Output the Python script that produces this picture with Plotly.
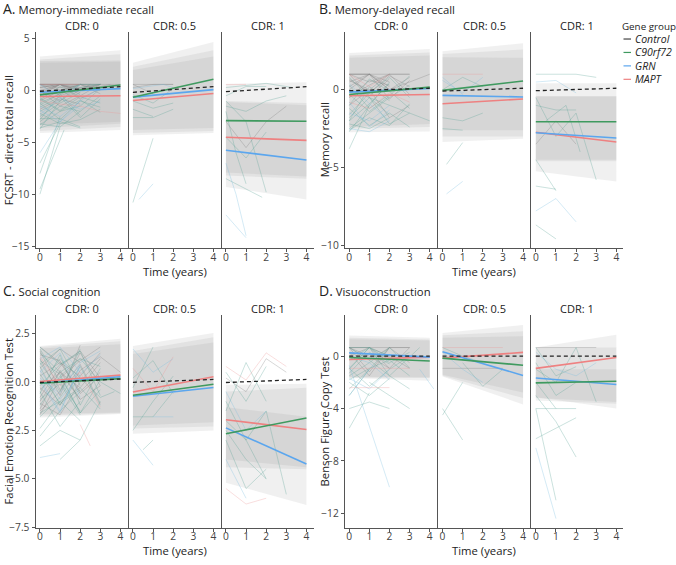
import plotly.graph_objects as go

W, H = 676, 565

# ---------------- data ----------------
FACETS = ["CDR: 0", "CDR: 0.5", "CDR: 1"]
GROUPS = ["Control", "C90rf72", "GRN", "MAPT"]
T_START, T_END = 0, 4
X_TICKS = [0, 1, 2, 3, 4]

# Group mean lines: per facet [value at t=0, value at t=4]
A_CONTROL = [[-0.06, 0.38], [-0.16, 0.38], [-0.10, 0.38]]
A_C9 = [[-0.41, 0.54], [-0.63, 1.10], [-2.90, -2.95]]
A_GRN = [[-0.16, 0.19], [-0.63, 0.10], [-5.75, -6.70]]
A_MAPT = [[-0.57, -0.50], [-0.95, -0.28], [-4.50, -4.80]]

B_CONTROL = [[-0.06, 0.10], [-0.08, 0.10], [-0.06, 0.10]]
B_C9 = [[-0.30, 0.17], [-0.04, 0.57], [-2.06, -2.06]]
B_GRN = [[-0.15, 0.08], [-0.36, -0.46], [-2.77, -3.10]]
B_MAPT = [[-0.38, -0.30], [-0.90, -0.59], [-2.73, -3.36]]

C_CONTROL = [[-0.03, 0.15], [-0.02, 0.13], [-0.03, 0.13]]
C_C9 = [[-0.07, 0.17], [-0.69, -0.12], [-2.67, -1.86]]
C_GRN = [[-0.07, 0.27], [-0.74, -0.29], [-2.37, -4.23]]
C_MAPT = [[0.02, 0.35], [-0.52, 0.27], [-1.95, -2.45]]

D_CONTROL = [[0.0, 0.0], [0.0, 0.0], [0.0, 0.0]]
D_C9 = [[-0.10, -0.37], [-0.15, -0.69], [-2.04, -1.91]]
D_GRN = [[0.25, -0.07], [0.34, -1.47], [-1.67, -2.16]]
D_MAPT = [[-0.25, -0.07], [-0.15, 0.29], [-0.93, -0.10]]

# Interval bands: per facet list of [low t0, high t0, low t4, high t4]
A_BANDS = [
    [[-4.1, 3.3, -3.8, 3.9], [-3.9, 3.0, -3.5, 3.5], [-3.6, 2.85, -3.2, 2.9], [-3.3, 2.7, -3.0, 2.8]],
    [[-4.3, 2.7, -4.1, 4.7], [-4.1, 2.3, -3.9, 3.9], [-3.8, 2.0, -3.6, 3.3]],
    [[-9.3, 0.65, -10.5, 0.8], [-8.2, -1.0, -8.5, -1.2], [-7.9, -1.1, -8.3, -1.4]],
]
B_BANDS = [
    [[-2.73, 2.37, -2.69, 2.63], [-2.5, 2.2, -2.4, 2.4], [-2.4, 2.06, -2.2, 2.2]],
    [[-3.36, 2.48, -3.15, 3.0], [-3.0, 2.3, -3.0, 2.6], [-2.6, 2.1, -2.6, 2.06]],
    [[-5.25, 0.42, -5.9, 0.42], [-4.6, -0.42, -4.6, -0.42], [-4.5, -0.42, -4.5, -0.42]],
]
C_BANDS = [
    [[-1.83, 1.86, -1.66, 2.23], [-1.75, 1.8, -1.62, 2.1], [-1.66, 1.73, -1.58, 1.95]],
    [[-2.67, 1.86, -2.5, 2.53], [-2.4, 1.6, -2.3, 2.3], [-2.25, 1.44, -2.08, 2.03]],
    [[-5.2, -0.15, -6.35, -0.1], [-4.4, -0.5, -4.5, -0.3], [-4.0, -1.3, -4.4, -1.8]],
]
D_BANDS = [
    [[-1.67, 1.57, -1.87, 1.4], [-1.62, 1.4, -1.67, 1.28], [-1.6, 1.3, -1.6, 1.2]],
    [[-1.55, 1.77, -3.68, 2.38], [-1.5, 1.6, -3.2, 1.9], [-1.42, 1.4, -2.77, 1.52]],
    [[-3.14, 0.66, -4.0, 1.64], [-3.39, 0.66, -3.63, 0.66], [-3.2, -1.0, -3.5, -1.0]],
]

# Individual trajectories: (group, times, values)
A_INDIV = [
    [("Control", [0, 1, 2, 3], [0.6, 0.6, 0.6, 0.6]), ("Control", [0, 1, 2, 3.5], [0.3, 0.6, 0.0, 0.6]),
     ("Control", [0, 1, 2], [-0.5, 0.6, 0.2]), ("Control", [0, 1, 2, 3], [-1.0, 0.0, 0.6, -0.3]),
     ("C9", [0, 1], [-10.0, -3.5]), ("C9", [0, 1.2], [-9.5, -3.8]), ("GRN", [0, 1, 2], [-6.0, -3.0, -1.0]),
     ("C9", [0, 1, 2, 3], [-2.0, -1.0, 0.3, 0.6]), ("C9", [0, 1], [-3.7, -1.0]),
     ("GRN", [0, 1, 2, 3], [-1.5, -2.5, -1.0, 0.3]), ("C9", [0, 1, 2], [-3.2, -3.5, -2.0]),
     ("MAPT", [0, 1, 2, 3, 4], [-1.0, -1.3, -1.5, -2.0, -2.2]), ("C9", [0, 1, 2], [-2.7, -2.7, -3.5]),
     ("Control", [0.5, 1.5, 2.5], [0.6, -0.5, 0.6]), ("C9", [0, 1, 2, 3], [-0.8, -2.0, -1.5, 0.2]),
     ("C9", [0, 1, 2], [-1.2, -0.3, -2.4]), ("Control", [0, 1, 2, 3], [0.0, -1.5, -0.5, 0.6]),
     ("Control", [0, 1, 2, 3], [0.6, 0.3, 0.6, 0.6]), ("Control", [0, 1, 2], [0.0, 0.6, 0.6]),
     ("Control", [0, 1, 2, 3, 4], [0.6, 0.6, 0.0, 0.6, 0.6]), ("C9", [0, 1, 2, 3], [-3.0, -1.5, -2.0, -0.5]),
     ("GRN", [0, 1, 2], [-2.3, -0.8, 0.6]), ("C9", [0, 1, 2, 3], [-1.2, -2.8, -1.0, -1.6]),
     ("C9", [0, 1], [-8.0, -2.5]), ("GRN", [0, 1, 2, 3], [0.6, -0.7, -1.8, -1.0]),
     ("C9", [0, 1, 2], [-3.6, -3.0, -3.6]), ("Control", [0, 1, 2, 3], [-0.3, 0.6, -0.8, 0.2]),
     ("MAPT", [0, 1, 2], [0.6, 0.6, 0.6]), ("C9", [0, 1, 2, 3], [-2.2, -3.2, -2.8, -1.8]),
     ("Control", [0, 1, 2], [-1.8, -0.8, -1.3]), ("Control", [0, 1, 2, 3], [0.6, 0.6, 0.3, 0.6]),
     ("Control", [0, 1, 2, 3], [-0.2, 0.6, 0.6, 0.0]), ("C9", [0, 1, 2], [-1.4, -0.3, 0.6]),
     ("Control", [0, 1, 2, 3], [0.6, -0.5, 0.2, 0.6]), ("C9", [0, 1, 2], [-2.5, -1.2, -0.2]),
     ("C9", [0, 1, 2, 3], [-0.7, -1.9, -0.6, -1.2]), ("Control", [0, 1, 2], [0.3, 0.6, -0.4]),
     ("C9", [0, 1, 2, 3], [-3.3, -2.0, -0.9, -2.1]), ("GRN", [0, 1, 2], [-1.9, -3.0, -1.4]),
     ("Control", [0, 1, 2, 3], [0.6, 0.0, 0.6, 0.3]), ("C9", [0, 1, 2], [-0.9, 0.4, -0.6]),
     ("C9", [0, 1, 2, 3], [-2.8, -0.4, 0.6, 0.6]), ("Control", [0, 1, 2], [0.0, -1.0, 0.6]),
     ("C9", [0, 1], [-7.0, -3.2]), ("C9", [0, 1, 2, 3], [-1.6, -0.6, -2.6, -0.8]),
     ("Control", [0, 1, 2], [0.6, 0.6, -0.2])],
    [("Control", [0, 1, 2], [0.6, 0.6, 0.6]), ("Control", [0, 1], [0.6, -0.3]),
     ("C9", [0, 1, 2], [-1.0, -1.7, -1.2]), ("C9", [0, 1], [-10.8, -4.6]), ("GRN", [0.3, 1], [-10.5, -9.0]),
     ("C9", [0, 1, 2], [-2.6, -2.6, -1.8]), ("GRN", [0, 1.5, 2], [0.2, 0.6, 0.3]), ("C9", [0, 1], [-1.8, -2.5]),
     ("Control", [0, 1, 2], [0.3, 0.6, 0.6]), ("C9", [0, 1, 2], [-0.4, -1.2, 0.2])],
    [("C9", [0, 1, 2, 3.3], [0.3, 0.5, 0.7, 0.3]), ("C9", [0, 1, 2], [-0.5, 0.4, 0.4]),
     ("C9", [0, 0.5, 1], [-2.0, -6.0, -9.0]), ("GRN", [0, 1], [-12.0, -14.2]),
     ("GRN", [0, 0.5, 1], [-7.0, -10.0, -14.0]), ("Control", [0, 1, 2, 3], [-3.0, -5.5, -3.0, -1.5]),
     ("C9", [0, 1, 2], [-4.5, -6.5, -4.0]), ("C9", [0, 1.8], [-8.5, -10.3]),
     ("C9", [0, 1, 2], [-1.0, -3.0, -9.8]), ("C9", [0, 1, 2, 3], [-1.5, -2.0, -1.0, -0.5]),
     ("MAPT", [0, 1], [0.6, 0.6])],
]
B_INDIV = [
    [("Control", [0, 1, 2, 3], [1.0, 1.0, 1.0, 1.0]), ("Control", [0, 1, 2, 3], [0.5, 1.0, 0.0, 0.8]),
     ("Control", [0, 1, 2], [-0.5, 0.6, 0.3]), ("C9", [0, 1], [-3.8, -1.0]),
     ("C9", [0, 1, 2, 3], [-2.5, -1.5, -0.5, 0.3]), ("GRN", [0, 1, 2], [-1.5, -2.0, -1.0]),
     ("C9", [0, 1, 2, 3, 4], [0.0, -0.5, -1.0, -1.5, -2.0]), ("C9", [0, 1, 2], [-2.7, -1.0, 0.5]),
     ("Control", [0, 1, 2, 3], [-1.0, 0.0, -1.8, -1.0]), ("C9", [0, 1, 2], [0.8, -0.5, -1.6]),
     ("C9", [0, 1, 2], [-2.2, -2.5, -1.8]), ("MAPT", [0, 1, 2], [1.0, 0.2, 1.0]),
     ("Control", [0, 1, 2, 3], [1.0, 0.5, 1.0, 1.0]), ("Control", [0, 1, 2], [0.0, 1.0, 0.5]),
     ("C9", [0, 1, 2, 3], [-1.8, -0.5, -2.2, -1.5]), ("GRN", [0, 1, 2], [-2.5, -2.7, -2.0]),
     ("C9", [0, 1, 2], [0.3, -1.2, -0.3]), ("Control", [0, 1, 2, 3, 4], [1.0, 1.0, 0.0, 0.5, 1.0]),
     ("C9", [0, 1, 2, 3], [-1.2, -2.3, -1.5, -2.4]), ("MAPT", [0, 1, 2, 3], [-0.8, -1.2, -0.2, -0.8]),
     ("C9", [0, 1, 2], [-2.0, 0.2, -0.7]), ("Control", [0, 1, 2, 3], [0.7, -0.2, 0.9, 0.2]),
     ("Control", [0, 1, 2, 3], [0.2, 1.0, -0.6, 0.6]), ("Control", [0, 1, 2], [1.0, -0.4, 0.7]),
     ("C9", [0, 1, 2, 3], [-1.6, -0.2, 0.8, -0.5]), ("GRN", [0, 1, 2], [-0.8, -2.4, -1.3]),
     ("Control", [0, 1, 2, 3], [0.6, 0.0, 1.0, -0.3]), ("C9", [0, 1, 2], [-2.0, -0.9, 0.4]),
     ("C9", [0, 1, 2, 3], [-0.3, -1.4, -0.4, 0.9]), ("Control", [0, 1, 2], [1.0, 1.0, 0.2]),
     ("C9", [0, 1, 2, 3], [-2.6, -1.8, -2.3, -0.9]), ("GRN", [0, 1, 2], [0.4, -0.9, -2.0]),
     ("C9", [0, 1, 2, 3], [-1.0, 0.7, -0.1, -1.2]), ("Control", [0, 1, 2], [-0.5, 0.3, 1.0])],
    [("MAPT", [0, 1, 2], [1.0, 1.0, 1.0]), ("GRN", [0, 1], [0.8, -0.3]),
     ("C9", [0, 1, 2], [-1.8, -2.0, -1.5]), ("C9", [0.2, 1], [-4.8, -3.4]),
     ("GRN", [0.2, 1], [-6.7, -5.9]), ("C9", [0, 1], [-2.5, -2.6]), ("C9", [0, 1, 2], [0.0, 0.8, 0.2]),
     ("GRN", [0, 1, 2], [0.6, -0.2, 0.8])],
    [("C9", [0, 1, 2, 3], [1.0, 1.0, 1.0, 0.8]), ("GRN", [0, 1, 2], [0.5, 0.6, -0.2]),
     ("C9", [0, 1], [-4.5, -6.5]), ("C9", [0, 1], [-6.2, -6.4]), ("GRN", [0, 1, 2], [-7.8, -7.0, -8.5]),
     ("C9", [0, 1], [-8.7, -9.6]), ("C9", [0, 1, 2, 3], [-0.5, -3.0, -1.5, -5.8]),
     ("C9", [0, 1, 2], [-1.0, -1.3, -1.3]), ("Control", [0, 1, 2], [-3.5, -2.0, -3.5]),
     ("C9", [0.5, 1.5, 2.2], [-2.0, -1.0, -4.0])],
]
C_INDIV = [
    [("C9", [0, 1, 2, 3], [1.5, 0.5, 1.2, 0.8]), ("Control", [0, 1, 2, 3], [-1.0, 0.5, -0.3, 1.0]),
     ("C9", [0, 1, 2], [0.8, -1.2, 0.3]), ("Control", [0, 1, 2, 3], [-1.5, -0.5, 1.5, -0.2]),
     ("GRN", [0, 1, 2], [1.2, 1.8, 0.5]), ("C9", [0, 1, 2], [-2.8, -1.5, -0.5]),
     ("GRN", [0, 1], [-3.9, -3.7]), ("C9", [0, 1, 2], [-0.5, -2.3, -1.0]),
     ("Control", [0, 1, 2, 3], [0.3, 1.0, -0.5, 0.5]), ("C9", [0, 1, 2, 3], [-3.3, -2.5, -3.0, -1.0]),
     ("C9", [0, 1, 2], [1.7, 0.0, -1.5]), ("C9", [0.5, 1, 2, 3, 3.7], [0.5, 1.2, 0.2, -0.8, -0.5]),
     ("MAPT", [2, 2.5], [-2.2, -3.3]), ("C9", [1, 2], [-4.0, -3.0]),
     ("Control", [0, 1, 2, 3], [-0.8, 0.8, 1.6, 0.2]), ("GRN", [0, 1, 2], [0.0, -1.6, 0.9]),
     ("Control", [0, 1, 2, 3], [1.8, 1.0, 0.3, 1.5]), ("C9", [0, 1, 2, 3], [-1.8, -0.8, 0.8, -1.2]),
     ("GRN", [0, 1, 2], [0.5, 1.5, -0.8]), ("Control", [0, 1, 2, 3, 4], [-0.3, -1.2, 0.6, 1.3, 0.5]),
     ("C9", [0, 1, 2], [1.0, -0.5, 1.7]), ("C9", [0, 1, 2, 3], [-1.2, 0.3, -1.6, -0.4]),
     ("Control", [0, 1, 2], [0.7, 1.7, 1.0]), ("MAPT", [0, 1, 2, 3], [1.3, -0.2, 0.5, -1.3]),
     ("C9", [0, 1, 2], [-2.4, -1.0, -2.0]), ("GRN", [0, 1, 2, 3], [0.2, -0.6, 1.0, 1.6]),
     ("Control", [0, 1, 2, 3], [1.6, -0.4, 0.9, -1.1]), ("C9", [0, 1, 2, 3], [-0.6, 1.4, -1.2, 0.7]),
     ("C9", [0, 1, 2], [0.9, 1.7, -0.2]), ("Control", [0, 1, 2, 3], [-1.7, 0.2, 1.1, 1.8]),
     ("GRN", [0, 1, 2], [0.1, -1.5, 0.8]), ("C9", [0, 1, 2, 3], [1.1, 0.4, -1.6, 0.1]),
     ("Control", [0, 1, 2, 3], [-1.1, -1.7, 0.0, 1.2]), ("C9", [0, 1, 2], [1.8, 0.9, 1.5]),
     ("C9", [0, 1, 2, 3], [-0.2, 0.9, 1.6, -0.7]), ("Control", [0, 1, 2], [-1.4, 0.6, -0.9]),
     ("GRN", [0, 1, 2, 3], [0.6, -0.9, 0.4, 1.4]), ("C9", [0, 1, 2], [-0.9, -0.1, -1.7]),
     ("Control", [0, 1, 2, 3], [1.4, 1.1, -0.6, 0.3]), ("C9", [0, 1, 2], [0.4, -1.1, -0.4]),
     ("C9", [0, 1, 2, 3], [-1.6, -1.0, -0.3, -1.4]), ("Control", [0, 1, 2], [1.2, -0.7, 1.9]),
     ("C9", [1, 2, 3, 4], [0.3, 1.2, 0.0, -0.6]), ("Control", [0, 1, 2, 3], [-0.4, 0.5, -0.9, -0.2])],
    [("GRN", [0, 1, 2], [1.7, 0.5, 1.2]), ("C9", [0, 1], [-0.3, 1.8]),
     ("C9", [0, 1, 2], [-1.8, -1.8, -0.5]), ("GRN", [0, 1], [-3.0, -4.3]),
     ("C9", [0, 1, 2], [-2.5, -1.0, 0.3]), ("C9", [0.5, 1], [-3.5, -3.0]),
     ("MAPT", [0, 1, 2], [0.7, -0.5, 1.3]), ("GRN", [1, 2], [-1.8, -1.8]),
     ("C9", [0, 1, 2], [0.2, 1.1, -0.6])],
    [("MAPT", [0, 1, 2, 3], [0.8, 0.1, 1.5, 0.8]), ("MAPT", [0, 1, 2], [-5.5, -6.3, -6.0]),
     ("C9", [0, 1, 2], [-1.0, -3.0, -5.0]), ("GRN", [0, 1], [-4.0, -6.0]),
     ("C9", [0, 1, 2], [-1.5, 1.0, -1.0]), ("C9", [0, 1, 2, 3], [-2.0, -3.0, -1.5, -5.8]),
     ("C9", [0, 1, 2], [-3.0, -5.5, -4.5]), ("GRN", [0, 1, 2], [-0.5, -2.5, -1.5]),
     ("C9", [0, 1, 2], [0.5, -1.0, 0.8]), ("C9", [0, 1, 2], [-2.5, -4.0, -5.0]),
     ("Control", [0, 1, 2, 3], [0.2, -0.5, 1.2, 0.5])],
]
D_INDIV = [
    [("Control", [0, 1, 2, 3], [0.66, 0.66, 0.66, 0.66]), ("MAPT", [0, 1, 2, 3], [-0.93, -0.93, -0.93, -0.93]),
     ("Control", [0, 1, 2, 3], [0.3, -1.5, 0.66, -0.5]), ("C9", [0, 1, 2], [-2.5, -1.0, 0.66]),
     ("C9", [0, 1], [-5.5, -2.8]), ("C9", [0, 1, 2], [-4.0, -3.5, -4.0]), ("GRN", [0, 2], [-0.7, -10.0]),
     ("C9", [0, 1, 2, 3], [-1.0, 0.66, -1.5, -2.5]), ("C9", [0, 1, 2, 3.5], [0.66, -0.3, -1.5, 0.66]),
     ("GRN", [0, 1, 2], [-1.7, -2.5, -1.0]), ("C9", [1, 2, 3], [-2.0, -3.0, -4.0]),
     ("GRN", [3.5, 4.2], [-1.0, -2.5]), ("MAPT", [0, 1, 2], [-2.4, -2.4, -2.4]),
     ("Control", [0, 1, 2, 3], [0.66, -0.3, 0.66, 0.66]), ("C9", [0, 1, 2], [-0.93, 0.66, -0.3]),
     ("Control", [0, 1, 2], [0.0, 0.66, -0.93]), ("C9", [0, 1, 2, 3], [-1.5, -0.5, 0.66, -0.9]),
     ("GRN", [0, 1], [-3.0, -1.0]), ("C9", [0, 1, 2, 3], [0.66, 0.66, -0.5, 0.3]),
     ("C9", [0, 1, 2], [-2.0, -3.0, -1.7]), ("Control", [0, 1, 2, 3], [0.66, 0.0, -0.93, 0.66]),
     ("C9", [0, 1, 2], [-0.3, 0.66, 0.0]), ("C9", [0, 1, 2, 3], [-1.8, -0.93, -0.3, -1.5]),
     ("Control", [0, 1, 2], [0.66, -1.2, 0.66]), ("C9", [0, 1, 2, 3], [-0.93, -2.3, -1.0, 0.0]),
     ("GRN", [0, 1, 2], [0.0, -0.5, -1.8]), ("Control", [0, 1, 2, 3], [0.66, 0.66, 0.0, -0.93]),
     ("C9", [0, 1], [-3.0, -1.0]), ("C9", [0, 1, 2], [-1.3, 0.3, -0.6])],
    [("MAPT", [0, 1, 2, 3], [0.66, 0.66, 0.66, 0.66]), ("Control", [0, 1, 2, 3], [-0.93, -0.93, -0.93, -0.93]),
     ("C9", [0, 1], [-4.5, -2.0]), ("C9", [0, 1], [-4.0, -6.4]), ("GRN", [0, 1, 2], [0.3, -1.0, -2.0]),
     ("C9", [0, 1, 2], [0.66, 0.0, -0.5]), ("C9", [1, 2, 3], [-0.5, -2.3, -1.0])],
    [("Control", [0, 1, 2, 3], [0.66, 0.66, 0.66, 0.66]), ("GRN", [0, 1], [-7.0, -12.4]),
     ("C9", [0, 1], [-4.0, -11.0]), ("C9", [0, 1, 2], [-6.3, -5.5, -4.7]),
     ("C9", [0, 1, 2], [-3.0, -5.0, -7.7]), ("C9", [0, 1, 2, 3], [-1.0, -2.0, 0.66, -3.5]),
     ("C9", [0, 1, 2], [-2.0, -4.0, -4.0]), ("C9", [0, 1], [-4.0, -4.0]),
     ("GRN", [0, 1, 2, 3], [0.3, -1.0, -1.5, -0.5]), ("C9", [0, 1, 2], [-0.5, -3.0, -2.0]),
     ("C9", [0, 1, 2], [0.66, -1.5, -0.8])],
]

A_YTICKS = [5, 0, -5, -10, -15]
B_YTICKS = [0, -5, -10]
C_YTICKS = [2.5, 0.0, -2.5, -5.0, -7.5]
D_YTICKS = [0, -4, -8, -12]

# ---------------- styling ----------------
FONT = "Open Sans"
MEAN_COLORS = {"C9": "#3f9a5f", "GRN": "#5ba6ee", "MAPT": "#ee8181"}
INDIV_COLORS = {"Control": "rgba(130,130,130,0.4)", "C9": "rgba(90,165,150,0.4)",
                "GRN": "rgba(120,190,225,0.4)", "MAPT": "rgba(235,150,150,0.4)"}
BAND_FILL = "rgba(128,128,128,0.12)"
AXIS_COL = "#555555"

PANELS = [
    dict(letter="A.", title="Memory-immediate recall", ytitle="FCSRT - direct total recall",
         yrange=[-15.23, 5.63], yticks=A_YTICKS, fmt="", control=A_CONTROL, c9=A_C9, grn=A_GRN,
         mapt=A_MAPT, bands=A_BANDS, indiv=A_INDIV),
    dict(letter="B.", title="Memory-delayed recall", ytitle="Memory recall",
         yrange=[-10.21, 3.7], yticks=B_YTICKS, fmt="", control=B_CONTROL, c9=B_C9, grn=B_GRN,
         mapt=B_MAPT, bands=B_BANDS, indiv=B_INDIV),
    dict(letter="C.", title="Social cognition", ytitle="Facial Emotion Recognition Test",
         yrange=[-7.53, 3.45], yticks=C_YTICKS, fmt=".1f", control=C_CONTROL, c9=C_C9, grn=C_GRN,
         mapt=C_MAPT, bands=C_BANDS, indiv=C_INDIV),
    dict(letter="D.", title="Visuoconstruction", ytitle="Benson Figure Copy Test",
         yrange=[-13.11, 3.14], yticks=D_YTICKS, fmt="", control=D_CONTROL, c9=D_C9, grn=D_GRN,
         mapt=D_MAPT, bands=D_BANDS, indiv=D_INDIV),
]

FACET_X = [[35.5, 128.5, 221.5], [344.8, 438.1, 531.4]]
FACET_W = 92
ROW_Y = [[31.7, 250.5], [318.0, 533.5]]
XRANGE = [-0.22, 4.35]

fig = go.Figure()
layout = dict(width=W, height=H, margin=dict(l=0, r=0, t=0, b=0),
              paper_bgcolor="white", plot_bgcolor="white", showlegend=False,
              font=dict(family=FONT, color="#222"))
annotations = []
shapes = []

for p, P in enumerate(PANELS):
    row, col = p // 2, p % 2
    y0, y1 = ROW_Y[row]
    for f in range(3):
        i = p * 3 + f + 1
        sfx = "" if i == 1 else str(i)
        xa, ya = f"x{sfx}", f"y{sfx}"
        x0 = FACET_X[col][f]
        x1 = x0 + FACET_W
        layout[f"xaxis{sfx}"] = dict(
            domain=[x0 / W, x1 / W], range=XRANGE, anchor=ya, tickvals=X_TICKS,
            ticks="outside", ticklen=3, tickcolor=AXIS_COL, showline=True, linecolor=AXIS_COL,
            linewidth=1, showgrid=False, zeroline=False, ticklabelstandoff=-4,
            tickfont=dict(size=10.2, color="#444", family=FONT))
        yax = dict(
            domain=[1 - y1 / H, 1 - y0 / H], range=P["yrange"], anchor=xa, showline=True,
            linecolor=AXIS_COL, linewidth=1, showgrid=False, zeroline=False,
            tickvals=P["yticks"], showticklabels=(f == 0), ticks="outside" if f == 0 else "",
            ticklen=3, tickcolor=AXIS_COL, tickfont=dict(size=10.2, color="#444", family=FONT))
        if P["fmt"]:
            yax["tickformat"] = P["fmt"]
        layout[f"yaxis{sfx}"] = yax

        # bands
        for lo0, hi0, lo4, hi4 in P["bands"][f]:
            fig.add_trace(go.Scatter(
                x=[T_START, T_END, T_END, T_START, T_START], y=[lo0, lo4, hi4, hi0, lo0],
                fill="toself", fillcolor=BAND_FILL, line=dict(width=0), mode="lines",
                hoverinfo="skip", xaxis=xa, yaxis=ya))
        # individual trajectories
        for g in ["Control", "C9", "GRN", "MAPT"]:
            xs, ys = [], []
            for grp, ts, vs in P["indiv"][f]:
                if grp == g:
                    xs += list(ts) + [None]
                    ys += list(vs) + [None]
            if xs:
                fig.add_trace(go.Scatter(x=xs, y=ys, mode="lines",
                                         line=dict(color=INDIV_COLORS[g], width=0.8),
                                         hoverinfo="skip", xaxis=xa, yaxis=ya))
        # mean lines
        for key, name in [("mapt", "MAPT"), ("grn", "GRN"), ("c9", "C9")]:
            fig.add_trace(go.Scatter(x=[T_START, T_END], y=P[key][f], mode="lines",
                                     line=dict(color=MEAN_COLORS[name], width=1.6),
                                     xaxis=xa, yaxis=ya, hoverinfo="skip"))
        fig.add_trace(go.Scatter(x=[T_START, T_END], y=P["control"][f], mode="lines",
                                 line=dict(color="#222", width=1.3, dash="4px,3px"),
                                 xaxis=xa, yaxis=ya, hoverinfo="skip"))
        # strip label
        strip_y = y0 - 7
        annotations.append(dict(text=FACETS[f], x=(x0 + x1) / 2 / W, y=1 - strip_y / H,
                                xref="paper", yref="paper", showarrow=False,
                                xanchor="center", yanchor="middle",
                                font=dict(size=11, color="#222", family=FONT)))
    # panel title
    tx = 1 if col == 0 else 317
    ty = 8 if row == 0 else 293
    annotations.append(dict(text=f"<span style='font-size:14px'>{P['letter']}</span> {P['title']}",
                            x=tx / W, y=1 - ty / H, xref="paper", yref="paper", showarrow=False,
                            xanchor="left", yanchor="middle",
                            font=dict(size=11.3, color="#222", family=FONT)))
    # y title
    yx = 8 if col == 0 else 324
    annotations.append(dict(text=P["ytitle"], x=yx / W, y=1 - (y0 + y1) / 2 / H, xref="paper",
                            yref="paper", showarrow=False, textangle=-90, xanchor="center",
                            yanchor="middle", font=dict(size=11.3, color="#222", family=FONT)))
    # x title
    mid = FACET_X[col][1] + FACET_W / 2
    if row == 0:
        xt = dict(y=1 - (y1 + 23.5) / H, yanchor="middle")
    else:
        xt = dict(y=0, yanchor="bottom")
    annotations.append(dict(text="Time (years)", x=mid / W, xref="paper", yref="paper",
                            showarrow=False, xanchor="center", borderpad=0,
                            font=dict(size=11.3, color="#222", family=FONT), **xt))

# legend (manual)
annotations.append(dict(text="Gene group", x=620 / W, y=1 - 26 / H, xref="paper", yref="paper",
                        showarrow=False, xanchor="left", yanchor="middle",
                        font=dict(size=9.8, color="#222", family=FONT)))
leg_colors = ["#444444", MEAN_COLORS["C9"], MEAN_COLORS["GRN"], MEAN_COLORS["MAPT"]]
for k, (name, colr) in enumerate(zip(GROUPS, leg_colors)):
    ly = 38.5 + k * 13.6
    shapes.append(dict(type="line", xref="paper", yref="paper", x0=623.5 / W, x1=631 / W,
                       y0=1 - ly / H, y1=1 - ly / H, line=dict(color=colr, width=1.2)))
    annotations.append(dict(text=f"<i>{name}</i>", x=633 / W, y=1 - ly / H, xref="paper",
                            yref="paper", showarrow=False, xanchor="left", yanchor="middle",
                            font=dict(size=10.5, color="#222", family=FONT)))

layout["annotations"] = annotations
layout["shapes"] = shapes
fig.update_layout(**layout)
fig.write_html("out.html", config={"displayModeBar": False},
               post_script="document.body.style.margin='0';")
